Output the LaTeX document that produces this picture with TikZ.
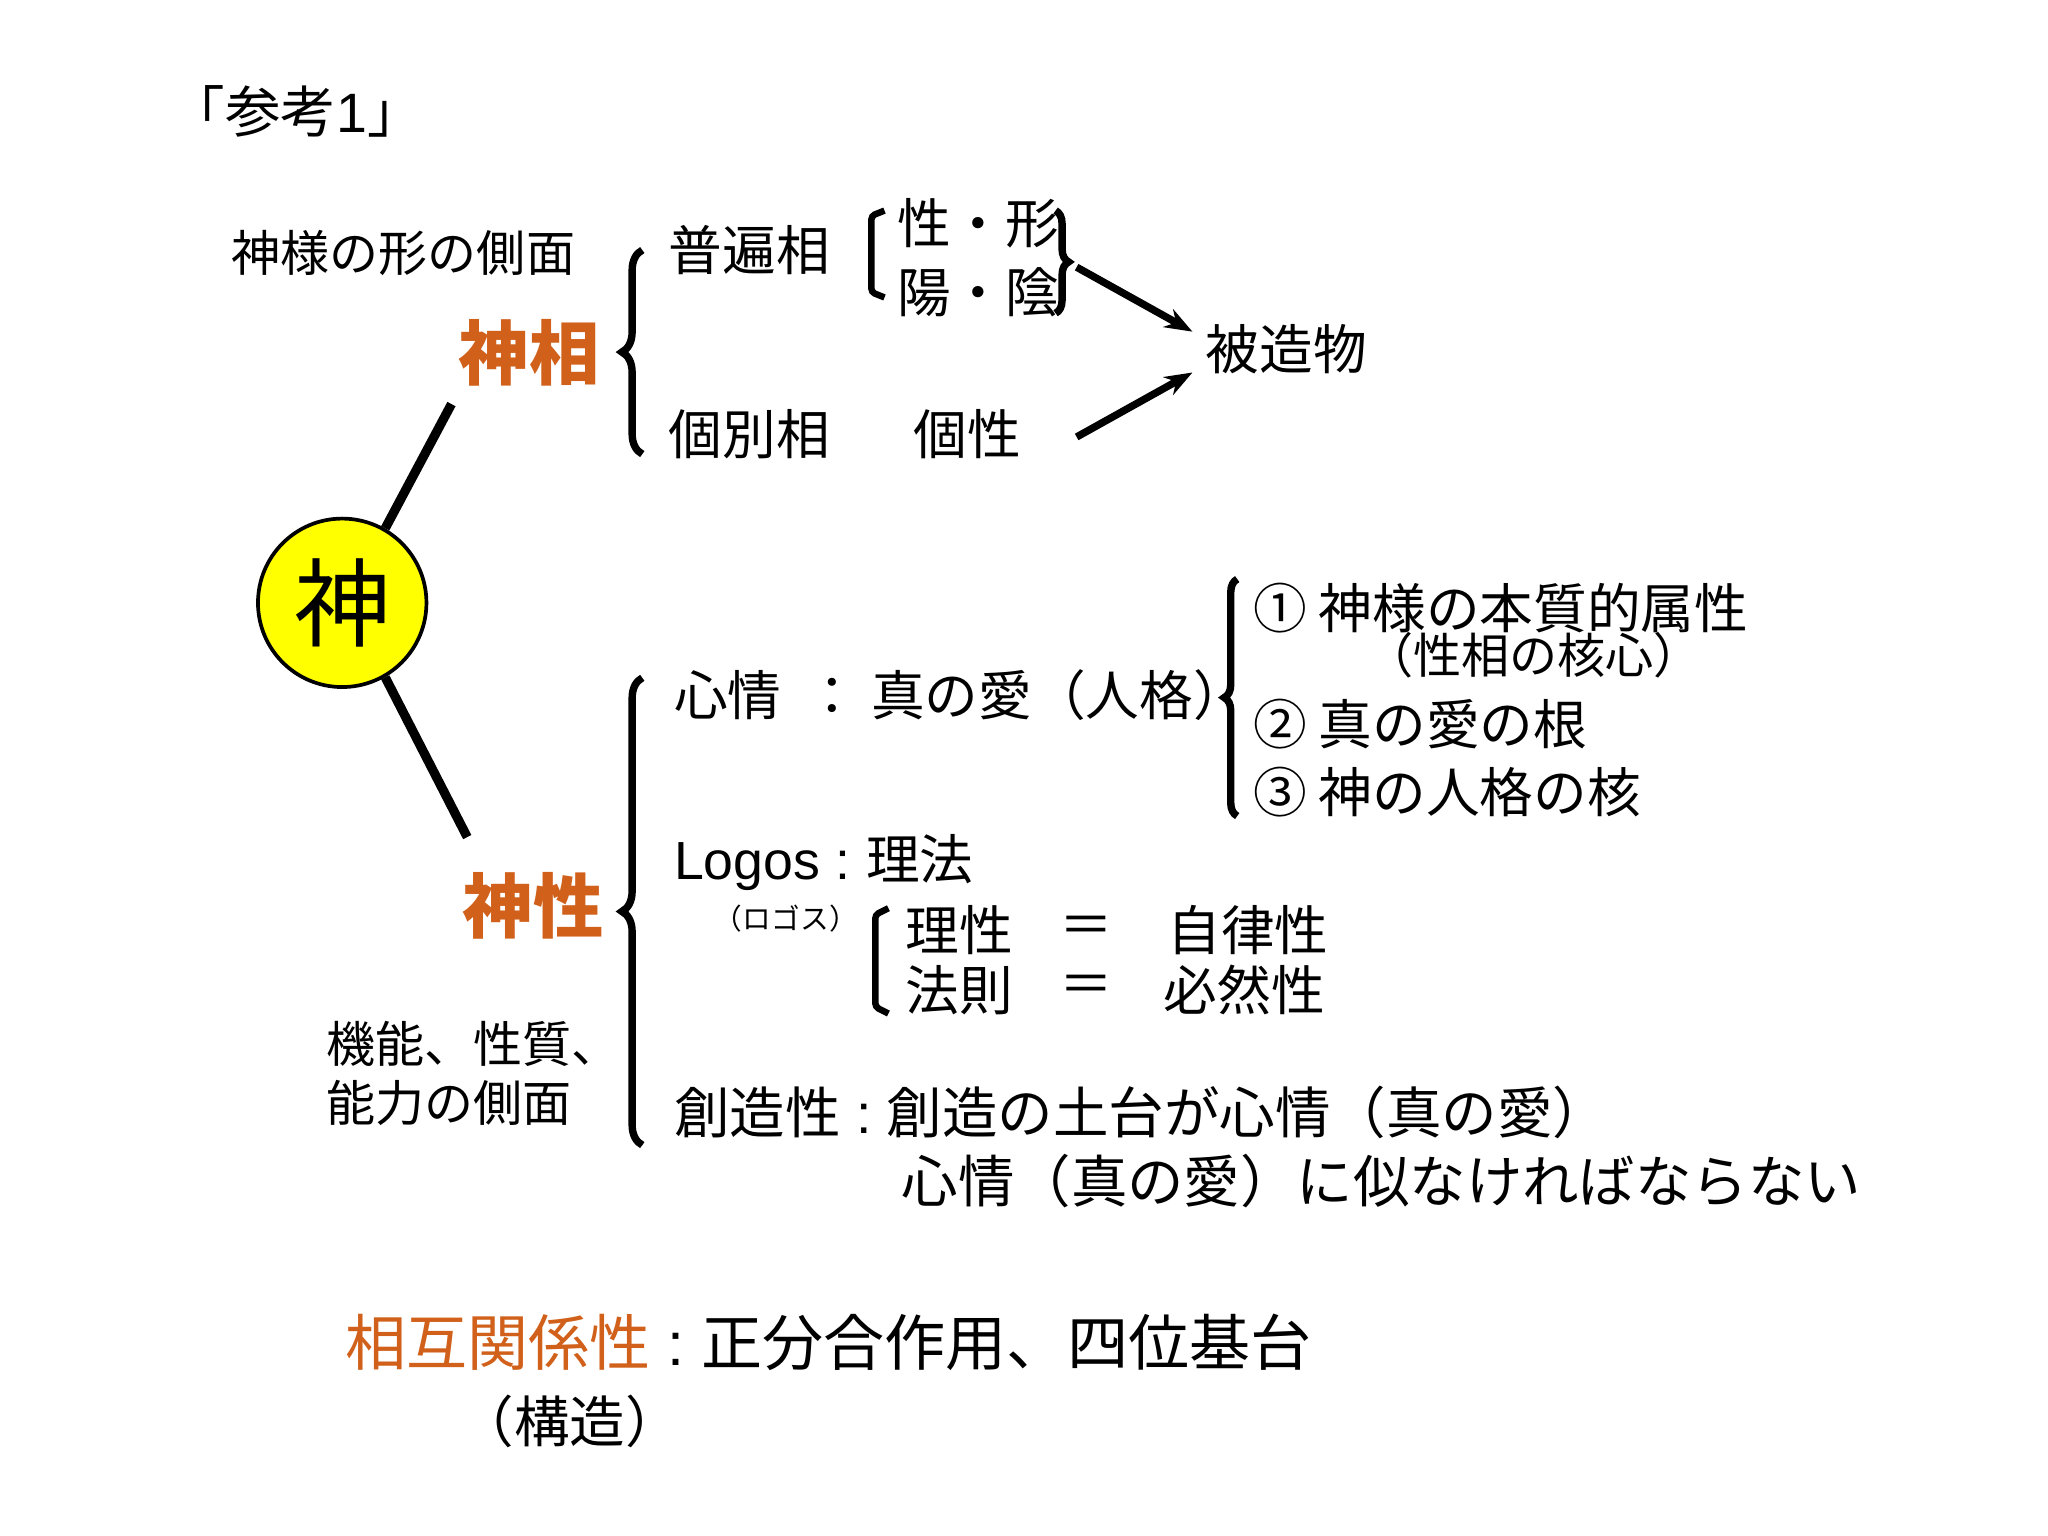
\documentclass[tikz,border=0pt]{standalone}
\usepackage{fontspec}
\setmainfont{Noto Sans CJK JP}
\newfontfamily\lat{Liberation Sans}
\usetikzlibrary{decorations.pathreplacing,arrows.meta}
\newcommand\fsz[1]{\fontsize{#1}{#1}\selectfont}
\definecolor{orng}{HTML}{D0601A}
\definecolor{yel}{HTML}{FFFF00}
\begin{document}
\begin{tikzpicture}[x=0.05cm,y=-0.05cm,
  t/.style={anchor=west,inner sep=0pt,font=\fsz{58}},
  s/.style={anchor=west,inner sep=0pt,font=\fsz{53}},
  big/.style={anchor=center,inner sep=0pt,font=\fsz{76}\bfseries,text=orng},
  br/.style={decorate,decoration={brace,amplitude=22pt},line width=8pt},
  ln/.style={line width=10pt},
  ar/.style={line width=8pt,-{Stealth[length=30pt,width=22pt]}}]
\useasboundingbox (0,0) rectangle (1556,1167);
\node[anchor=center,inner sep=0pt,font=\fsz{60}] (title) at (225,85) {「参考{\lat 1}」};
\node[s] (katachi) at (176,192) {神様の形の側面};
\node[big] (shinso) at (402,268) {神相};
\draw[br] (488,345) -- (488,190);
\node[t] (fuhen) at (508,190) {普遍相};
\node[t] (kobetsu) at (508,330) {個別相};
\node[t] (kosei) at (694,330) {個性};
\draw[line width=7pt,rounded corners=4pt] (672,160)--(662,164)--(662,222)--(672,226);
\node[t] (seikei) at (682,170) {性・形};
\node[t] (youin) at (682,222) {陽・陰};
\draw[br,decoration={amplitude=14pt}] (802,160) -- (802,238);
\node[t] (hizo) at (916,265) {被造物};
\coordinate (a1) at (818,203); \coordinate (a2) at (818,332);
\coordinate (b1) at (906,252); \coordinate (b2) at (906,283);
\draw[ar] (a1) -- (b1);
\draw[ar] (a2) -- (b2);
\node[circle,draw,line width=4pt,fill=yel,minimum size=6.4cm,inner sep=0pt,font=\fsz{104}] (kami) at (260,458) {神};
\node[big] (shinsei) at (405,688) {神性};
\coordinate (l1) at (343,307); \coordinate (l2) at (355,636);
\draw[ln] (kami.60) -- (l1);
\draw[ln] (kami.-60) -- (l2);
\draw[br] (488,870) -- (488,515);
\node[t] (shinjo) at (512,528) {心情 \ ： 真の愛（人格）};
\draw[br,decoration={amplitude=14pt}] (940,620) -- (940,440);
\node[t] (n1) at (952,462) {① 神様の本質的属性};
\node[anchor=center,inner sep=0pt,font=\fsz{52}] (kaku) at (1165,498) {（性相の核心）};
\node[t] (n2) at (952,550) {② 真の愛の根};
\node[t] (n3) at (952,602) {③ 神の人格の核};
\node[t] (logos) at (512,655) {{\lat Logos :} 理法};
\node[anchor=center,inner sep=0pt,font=\fsz{31}] (rogosu) at (597,698) {（ロゴス）};
\draw[line width=7pt,rounded corners=4pt] (675,690)--(665,695)--(665,765)--(675,770);
\node[t] (risei) at (688,707) {理性};
\node[t] (eq1) at (805,707) {＝};
\node[t] (jiri) at (887,707) {自律性};
\node[t] (hoso) at (688,752) {法則};
\node[t] (eq2) at (805,752) {＝};
\node[t] (hitsu) at (884,752) {必然性};
\node[s] (kino1) at (248,793) {機能、性質、};
\node[s] (kino2) at (248,838) {能力の側面};
\node[t,font=\fsz{60}] (sozo) at (512,845) {創造性{\lat\ :\ }創造の土台が心情（真の愛）};
\node[t,font=\fsz{61}] (sozo2) at (685,897) {心情（真の愛）に似なければならない};
\node[t,font=\fsz{66}] (sogo) at (262,1020) {\textcolor{orng}{相互関係性}{\lat\ :\ }正分合作用、四位基台};
\node[anchor=center,inner sep=0pt,font=\fsz{60}] (kozo) at (433,1080) {（構造）};
\end{tikzpicture}
\end{document}
